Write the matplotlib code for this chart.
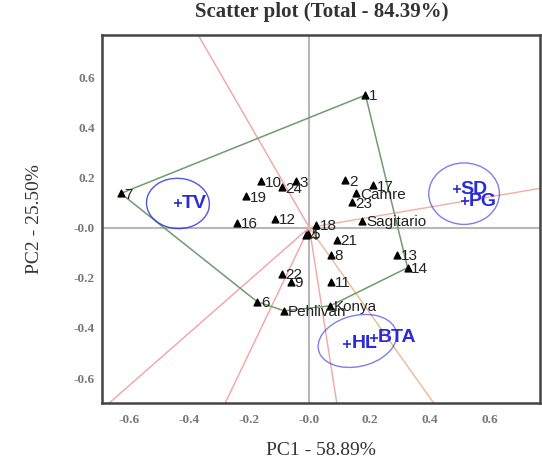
import numpy as np
import matplotlib.pyplot as plt
from matplotlib.patches import Ellipse

# genotype scores on PC1 / PC2
genotypes = ['1', '2', '3', '4', '5', '6', '7', '8', '9', '10', '11', '12', '13',
             '14', '16', '17', '18', '19', '21', '22', '23', '24',
             'Camre', 'Sagitario', 'Konya', 'Pehlivan']
pc1 = [0.187, 0.12, -0.043, -0.01, -0.005, -0.173, -0.627, 0.073, -0.06, -0.16, 0.073, -0.113, 0.293,
       0.327, -0.24, 0.213, 0.023, -0.21, 0.093, -0.09, 0.143, -0.09,
       0.157, 0.177, 0.07, -0.083]
pc2 = [0.528, 0.188, 0.184, -0.028, -0.024, -0.296, 0.136, -0.108, -0.216, 0.184, -0.216, 0.036, -0.108,
       -0.16, 0.02, 0.168, 0.012, 0.124, -0.048, -0.184, 0.1, 0.16,
       0.136, 0.028, -0.312, -0.332]

# trait vectors
traits = ['TV', 'SD', 'PG', 'HL', 'BTA']
tr_pc1 = [-0.437, 0.49, 0.517, 0.127, 0.215]
tr_pc2 = [0.096, 0.152, 0.104, -0.464, -0.44]

# polygon vertices (genotype names)
hull = ['1', '7', '6', 'Pehlivan', 'Konya', '14']

pos = dict(zip(genotypes, zip(pc1, pc2)))

fig = plt.figure(figsize=(5.42, 4.65), dpi=100)
ax = fig.add_axes([0.188, 0.133, 0.808, 0.792])
ax.set_xlim(-0.69, 0.767)
ax.set_ylim(-0.70, 0.768)

ax.axhline(0, color='#b8b8b8', lw=1.5, zorder=1)
ax.axvline(0, color='#b8b8b8', lw=1.5, zorder=1)

# sector rays: perpendicular from origin to each polygon side
hx = np.array([pos[g][0] for g in hull])
hy = np.array([pos[g][1] for g in hull])
ray_colors = ['#f2a3a3', '#f2a3a3', '#f2a3a3', '#f0a8a0', '#e8b898', '#f3b0a0']
for i in range(len(hull)):
    j = (i + 1) % len(hull)
    nx, ny = -(hy[j] - hy[i]), hx[j] - hx[i]
    if nx * hx[i] + ny * hy[i] < 0:
        nx, ny = -nx, -ny
    s = 3.0 / np.hypot(nx, ny)
    ax.plot([0, nx * s], [0, ny * s], color=ray_colors[i], lw=1.0, zorder=2)

ax.plot(np.append(hx, hx[0]), np.append(hy, hy[0]), color='#6f9c6f', lw=1.1, zorder=3)

# confidence ellipses around trait groups
blue = '#2a2ad8'
ax.add_patch(Ellipse((-0.437, 0.096), 0.21, 0.2, angle=-15, fill=False,
                     ec=blue, lw=1.0, alpha=0.8, zorder=3))
ax.add_patch(Ellipse((0.515, 0.135), 0.235, 0.245, angle=0, fill=False,
                     ec=blue, lw=1.0, alpha=0.6, zorder=3))
ax.add_patch(Ellipse((0.16, -0.452), 0.27, 0.2, angle=22, fill=False,
                     ec=blue, lw=1.0, alpha=0.6, zorder=3))

ax.scatter(pc1, pc2, marker='^', s=24, color='black', zorder=4)
for g, x, y in zip(genotypes, pc1, pc2):
    ax.annotate(g, (x, y), xytext=(2.5, -1), textcoords='offset points',
                fontsize=11, family='Liberation Sans', color='#222222',
                va='center', ha='left', zorder=5)

ax.scatter(tr_pc1, tr_pc2, marker='+', s=34, color=blue, lw=1.2, zorder=4)
for t, x, y in zip(traits, tr_pc1, tr_pc2):
    ax.annotate(t, (x, y), xytext=(3, 0), textcoords='offset points',
                fontsize=14, family='Liberation Sans', color=blue,
                weight='bold', va='center', ha='left', zorder=5)

ticks = [-0.6, -0.4, -0.2, 0.0, 0.2, 0.4, 0.6]
tick_labels = ['-0.6', '-0.4', '-0.2', '-0.0', '0.2', '0.4', '0.6']
ax.set_xticks(ticks)
ax.set_xticklabels(tick_labels)
ax.set_yticks(ticks)
ax.set_yticklabels(tick_labels)
ax.tick_params(length=0, pad=8, labelsize=9.5, labelcolor='#777777')
ax.tick_params(axis='y', pad=5)
for lab in ax.get_xticklabels() + ax.get_yticklabels():
    lab.set_family('Liberation Serif')
    lab.set_weight('bold')

for sp in ax.spines.values():
    sp.set_linewidth(1.8)
    sp.set_color('#444444')

ax.set_xlabel('PC1 - 58.89%', family='Liberation Serif', fontsize=14,
              color='#333333', labelpad=11)
ax.set_ylabel('PC2 - 25.50%', family='Liberation Serif', fontsize=14,
              color='#333333', labelpad=22)
fig.text(0.594, 0.975, 'Scatter plot (Total - 84.39%)', ha='center', va='center',
         family='Liberation Serif', fontsize=15, weight='bold', color='#333333')

fig.savefig('out.png', dpi=100)
